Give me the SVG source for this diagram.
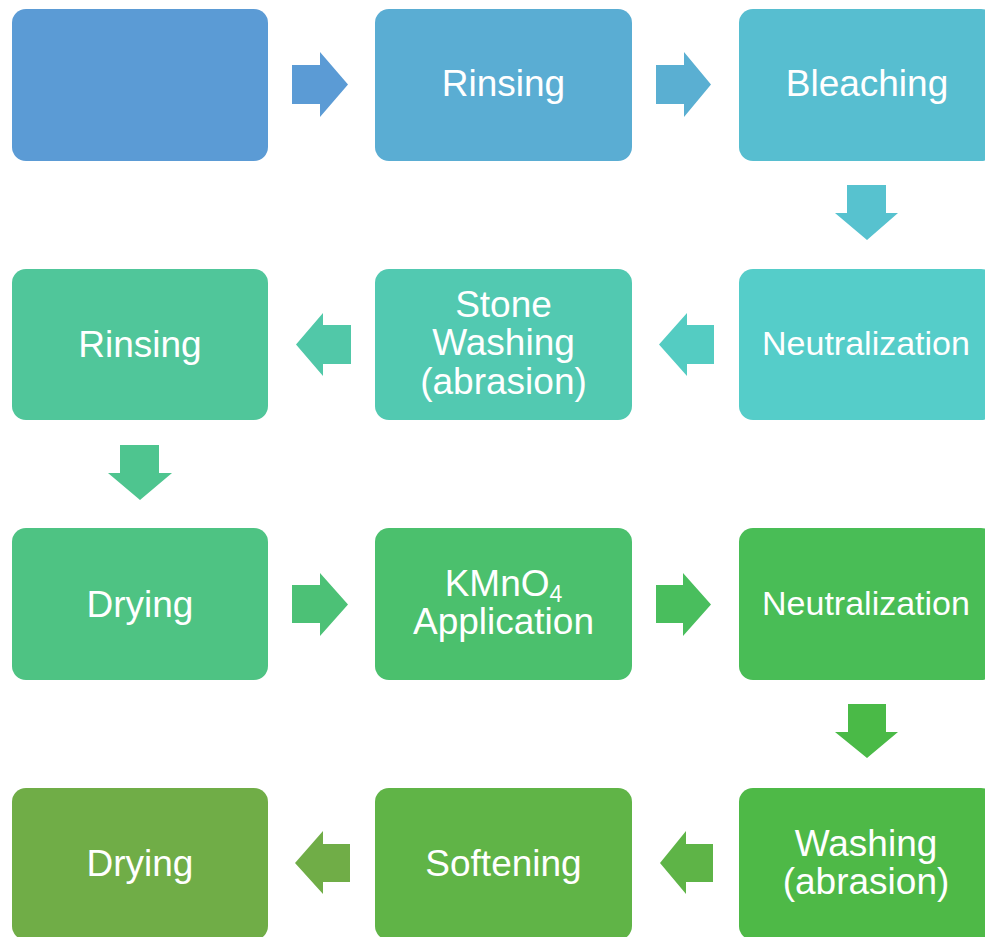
<svg xmlns="http://www.w3.org/2000/svg" width="985" height="937" viewBox="0 0 985 937">
<style>
.box{stroke:none}
.t{font-family:"Liberation Sans",Arial,sans-serif;font-size:37px;fill:#ffffff;text-anchor:middle}
.ts{font-size:34px}
</style>
<rect width="985" height="937" fill="#ffffff"/>
<g id="connectors">
<polygon fill="#5B9BD5" points="292,65 320,65 320,52 348,84.5 320,117 320,104 292,104"/>
<polygon fill="#5AAFD2" points="656,65 684,65 684,52 711,84.5 684,117 684,104 656,104"/>
<polygon fill="#57C2CF" points="847,185 886,185 886,213 898,213 867,240 835,213 847,213"/>
<polygon fill="#54CCC2" points="714,325 687,325 687,313 659,344.5 687,376 687,364 714,364"/>
<polygon fill="#51C8A8" points="351,325 323,325 323,313 296,344.5 323,376 323,364 351,364"/>
<polygon fill="#4EC58F" points="120,445 159,445 159,473 172,473 140,500 108,473 120,473"/>
<polygon fill="#4CC176" points="292,585 320,585 320,573 348,604.5 320,636 320,623 292,623"/>
<polygon fill="#49BE5D" points="656,585 683,585 683,573 711,604.5 683,636 683,623 656,623"/>
<polygon fill="#4ABA47" points="848,704 886,704 886,732 898,732 867,758 835,732 848,732"/>
<polygon fill="#5EB447" points="713,844 686,844 686,831 660,863 686,894 686,882 713,882"/>
<polygon fill="#70AD47" points="350,844 323,844 323,831 295,863 323,894 323,882 350,882"/>
</g>
<g id="n1"><rect class="box" x="12" y="9" width="256" height="152" rx="14" fill="#5B9BD5"/></g>
<g id="n2"><rect class="box" x="375" y="9" width="257" height="152" rx="14" fill="#5AADD3"/><text class="t" x="503.5" y="96">Rinsing</text></g>
<g id="n3"><rect class="box" x="739" y="9" width="256" height="152" rx="14" fill="#57BED0"/><text class="t" x="867" y="96">Bleaching</text></g>
<g id="n4"><rect class="box" x="739" y="269" width="256" height="151" rx="14" fill="#55CDC9"/><text class="t ts" x="866" y="355">Neutralization</text></g>
<g id="n5"><rect class="box" x="375" y="269" width="257" height="151" rx="14" fill="#52C9B1"/><text class="t" x="503.5" y="317">Stone</text><text class="t" x="503.5" y="355">Washing</text><text class="t" x="503.5" y="394">(abrasion)</text></g>
<g id="n6"><rect class="box" x="12" y="269" width="256" height="151" rx="14" fill="#50C69A"/><text class="t" x="140" y="357">Rinsing</text></g>
<g id="n7"><rect class="box" x="12" y="528" width="256" height="152" rx="14" fill="#4EC383"/><text class="t" x="140" y="617">Drying</text></g>
<g id="n8"><rect class="box" x="375" y="528" width="257" height="152" rx="14" fill="#4BC06D"/><text class="t" x="503.5" y="596">KMnO<tspan font-size="23" dy="6">4</tspan></text><text class="t" x="503.5" y="634">Application</text></g>
<g id="n9"><rect class="box" x="739" y="528" width="256" height="152" rx="14" fill="#49BD56"/><text class="t ts" x="866" y="615">Neutralization</text></g>
<g id="n10"><rect class="box" x="739" y="788" width="256" height="152" rx="14" fill="#4EB947"/><text class="t" x="866" y="856">Washing</text><text class="t" x="866" y="894">(abrasion)</text></g>
<g id="n11"><rect class="box" x="375" y="788" width="257" height="152" rx="14" fill="#60B447"/><text class="t" x="503.5" y="876">Softening</text></g>
<g id="n12"><rect class="box" x="12" y="788" width="256" height="152" rx="14" fill="#70AD47"/><text class="t" x="140" y="876">Drying</text></g>
</svg>
